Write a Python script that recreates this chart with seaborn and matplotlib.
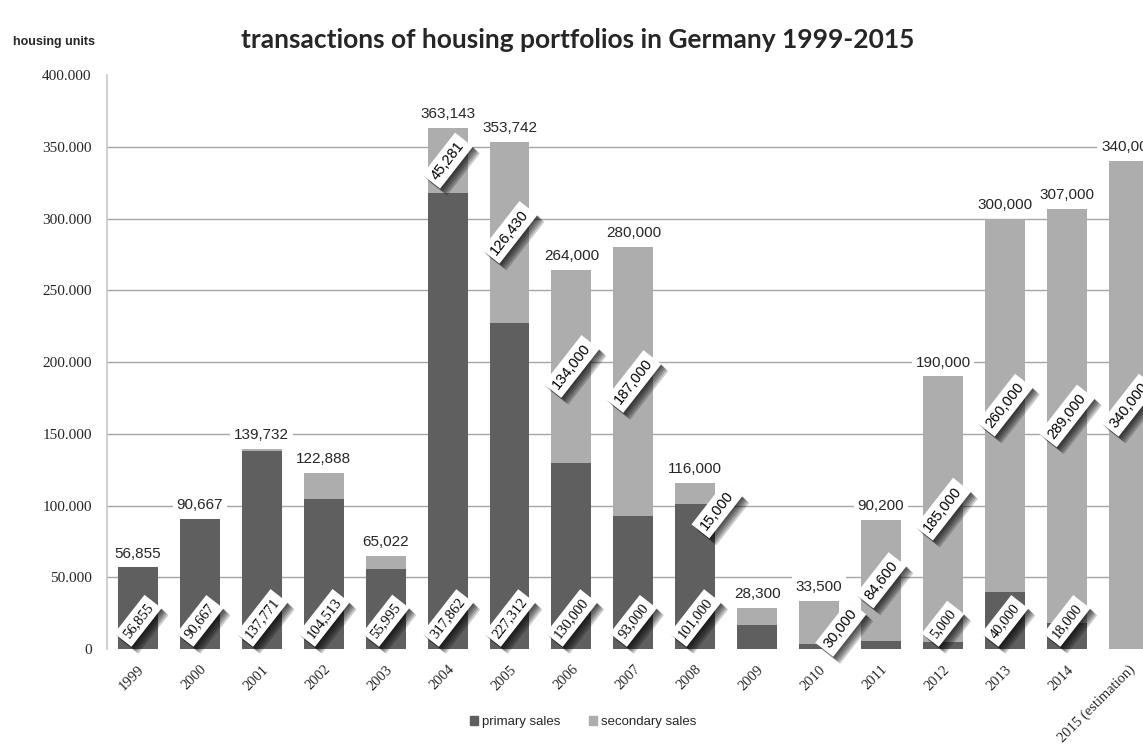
import matplotlib
matplotlib.use("Agg")
import matplotlib.pyplot as plt
import matplotlib.patheffects as pe
from matplotlib.ticker import FuncFormatter
from matplotlib.patches import Patch
import seaborn as sns
import pandas as pd

years = ["1999", "2000", "2001", "2002", "2003", "2004", "2005", "2006", "2007",
         "2008", "2009", "2010", "2011", "2012", "2013", "2014", "2015 (estimation)"]
primary = [56855, 90667, 137771, 104513, 55995, 317862, 227312, 130000, 93000,
           101000, 17000, 3500, 5600, 5000, 40000, 18000, 0]
secondary = [0, 0, 1961, 18375, 9027, 45281, 126430, 134000, 187000,
             15000, 11300, 30000, 84600, 185000, 260000, 289000, 340000]
totals = [56855, 90667, 139732, 122888, 65022, 363143, 353742, 264000, 280000,
          116000, 28300, 33500, 90200, 190000, 300000, 307000, 340000]
# which segment values get a rotated callout label
show_primary = [True] * 10 + [False, False, False, True, True, True, False]
show_secondary = [False] * 5 + [True] * 5 + [False] + [True] * 6

DARK = "#5f5f5f"
LIGHT = "#adadad"

sns.set_style("white")
plt.rcParams["font.family"] = ["Liberation Sans", "DejaVu Sans"]

df = pd.DataFrame({"year": years, "primary": primary, "secondary": secondary})
df["stack"] = df["primary"] + df["secondary"]

fig = plt.figure(figsize=(11.43, 7.49), dpi=100)
ax = fig.add_axes([0.0936, 0.1335, 0.921, 0.766])

sns.barplot(data=df, x="year", y="stack", color=LIGHT, width=0.645,
            saturation=1, linewidth=0, edgecolor="none", ax=ax, zorder=2)
sns.barplot(data=df, x="year", y="primary", color=DARK, width=0.645,
            saturation=1, linewidth=0, edgecolor="none", ax=ax, zorder=3)

ax.set_ylim(0, 400000)
ax.set_xlim(-0.5, len(years) - 0.5)
ax.set_yticks(range(0, 400001, 50000))
ax.yaxis.set_major_formatter(FuncFormatter(lambda v, p: "0" if v == 0 else f"{int(v):,}".replace(",", ".")))
for lbl in ax.get_yticklabels():
    lbl.set_family(["Liberation Serif"])
    lbl.set_fontsize(11)
ax.tick_params(axis="y", length=0, pad=11)
ax.tick_params(axis="x", length=0, pad=10)
ax.set_xticks(range(len(years)))
ax.set_xticklabels(years, rotation=45, ha="right", rotation_mode="anchor",
                   fontsize=10.5, family=["Liberation Serif"])
ax.set_xlabel("")
ax.set_ylabel("")

for v in range(50000, 400000, 50000):
    ax.axhline(v, color="#a6a6a6", lw=1, zorder=1)

for s in ["top", "right", "bottom"]:
    ax.spines[s].set_visible(False)
ax.spines["left"].set_color("#c8c8c8")
ax.spines["left"].set_linewidth(1.2)

# soft drop shadow built from a few stacked offsets
shadow = [pe.SimplePatchShadow(offset=(k, -k), shadow_rgbFace="black", alpha=0.2)
          for k in (1, 2, 3, 4, 5)] + [pe.Normal()]

def callout(x, y, text, va, family, dy=0):
    t = ax.annotate(text, (x, y), xytext=(0, dy),
                    textcoords="offset points", rotation=52, ha="center", va=va,
                    fontsize=10.5, color="black", zorder=6, family=family,
                    bbox=dict(boxstyle="square,pad=0.3", fc="white", ec="none"))
    t.get_bbox_patch().set_path_effects(shadow)

for i in range(len(years)):
    if show_primary[i]:
        callout(i, 0, f"{primary[i]:,}", "bottom", ["Liberation Serif"], dy=6)
    if show_secondary[i]:
        if secondary[i] < 35000:
            # small segment: label pushed beside the bar, hanging from its top
            callout(i + 0.35, totals[i], f"{secondary[i]:,}", "top", ["Liberation Sans"], dy=-4)
        else:
            callout(i, primary[i] + secondary[i] / 2, f"{secondary[i]:,}", "center", ["Liberation Sans"])
    ax.annotate(f"{totals[i]:,}", (i, totals[i]), xytext=(0, 5),
                textcoords="offset points", ha="center", va="bottom",
                fontsize=11, zorder=7, annotation_clip=False,
                bbox=dict(boxstyle="square,pad=0.25", fc="white", ec="none"))

fig.text(0.505, 0.947, "transactions of housing portfolios in Germany 1999-2015",
         ha="center", va="center", fontsize=19, fontweight="bold", family=["Lato", "DejaVu Sans"])
fig.text(0.011, 0.944, "housing units", ha="left", va="center",
         fontsize=9, fontweight="bold")

handles = [Patch(color=DARK, label="primary sales"), Patch(color=LIGHT, label="secondary sales")]
fig.legend(handles=handles, loc="center", bbox_to_anchor=(0.51, 0.036), ncol=2,
           frameon=False, fontsize=9.5, handlelength=0.6, handleheight=0.6,
           handletextpad=0.3, columnspacing=2.2)

fig.savefig("out.png", dpi=100)
